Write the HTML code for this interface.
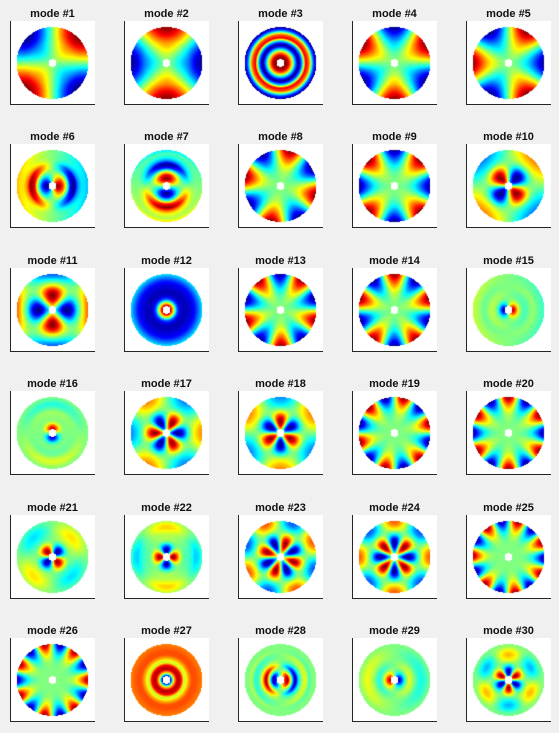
<!DOCTYPE html>
<html><head><meta charset="utf-8">
<style>
html,body{margin:0;padding:0;background:#f0f0f0;}
#fig{position:relative;width:559px;height:733px;background:#f0f0f0;overflow:hidden;font-family:"Liberation Sans",sans-serif;}
.ax{position:absolute;width:85px;height:84px;background:#fff;border-left:1px solid #262626;border-bottom:1px solid #262626;box-sizing:border-box;overflow:hidden;}
.ax canvas{position:absolute;left:0;top:0;}
.tt{position:absolute;width:120px;text-align:center;font-weight:bold;font-size:11px;color:#111;line-height:12px;}
</style></head>
<body>
<div id="fig"></div>
<script>
const modeIds=[1,2,3,4,5,6,7,8,9,10,11,12,13,14,15,16,17,18,19,20,21,22,23,24,25,26,27,28,29,30];
const circOrders=[2,2,0,3,3,1,1,4,4,2,2,0,5,5,1,1,3,3,6,6,2,2,4,4,7,7,0,1,1,3];
const phasesDeg=[45,90,0,-90,180,0,90,75,45,135,90,0,55,90,0,90,180,90,75,90,135,0,160,45,75,0,0,0,180,-90];
const edgeProfile=[0.05,0.1,0.2,0.3,0.4,0.5,0.65,0.8,0.9,1];
const edgeSharp=[0,0.02,0.05,0.1,0.2,0.32,0.48,0.65,0.82,1];
const radialProfiles=[
edgeProfile,edgeProfile,
[1,0.9,0.4,-0.4,-1,-0.4,0.8,0.5,-0.5,-1],
[0,0.05,0.1,0.2,0.3,0.4,0.55,0.7,0.85,1],
[0,0.05,0.1,0.2,0.3,0.4,0.55,0.7,0.85,1],
[1,0.9,0.6,0.0,-0.8,-1,-0.5,-0.3,-0.3,-0.4],
[0.6,1,0.8,0.2,-0.7,-1,-0.5,-0.2,-0.1,-0.3],
edgeSharp,edgeSharp,
[0.6,0.9,1,0.9,0.6,0.2,-0.1,-0.3,-0.4,-0.5],
[0.3,0.6,0.9,1,0.9,0.6,0.2,-0.1,-0.4,-0.6],
[1,0.2,-0.6,-0.85,-0.9,-0.85,-0.8,-0.7,-0.5,-0.3],
edgeSharp,edgeSharp,
[1,0.6,0.1,-0.1,-0.1,0,0.05,-0.05,-0.1,-0.15],
[1,0.6,0.1,0,0.05,0.05,-0.1,-0.2,-0.1,0],
[0.4,0.8,1,0.9,0.6,0.2,-0.1,-0.3,-0.4,-0.5],
[0.4,0.8,1,0.9,0.6,0.2,-0.1,-0.3,-0.4,-0.5],
[0,0,0.02,0.05,0.1,0.2,0.35,0.55,0.8,1],
[0,0,0.02,0.05,0.1,0.2,0.35,0.55,0.8,1],
[0.8,1,0.7,0.2,-0.1,-0.2,-0.3,-0.3,-0.2,-0.1],
[0.8,1,0.6,0.1,-0.1,-0.1,-0.2,-0.35,-0.3,-0.1],
[0.2,0.6,0.9,1,0.8,0.4,0,-0.3,-0.5,-0.6],
[0.2,0.6,0.9,1,0.8,0.4,0,-0.3,-0.5,-0.6],
[0,0,0,0.02,0.06,0.15,0.3,0.5,0.75,1],
[0,0,0,0.02,0.06,0.15,0.3,0.5,0.75,1],
[-1,0.3,0.9,0.8,0.1,0.4,0.6,0.6,0.55,0.5],
[0.6,1,0,-1,-0.3,0.1,0.2,-0.1,0,0],
[1,0.6,0.1,-0.2,-0.1,0.1,0.2,0.2,0.1,0],
[0.6,1,0.8,0.3,-0.1,-0.3,-0.4,-0.3,-0.1,0]
];

function jet(t){
  t=Math.max(0,Math.min(1,t));
  const r=Math.max(0,Math.min(1,1.5-Math.abs(4*t-3)));
  const g=Math.max(0,Math.min(1,1.5-Math.abs(4*t-2)));
  const b=Math.max(0,Math.min(1,1.5-Math.abs(4*t-1)));
  return [r*255,g*255,b*255];
}
function profileAt(p,r){
  const x=(r-0.1)/0.1;
  if(x<=0)return p[0];
  if(x>=p.length-1)return p[p.length-1];
  const i=Math.floor(x),f=x-i;
  return p[i]*(1-f)+p[i+1]*f;
}
const fig=document.getElementById('fig');
const AXW=85,AXH=84,CW=84,CH=83,R=36,HOLE=0.11;
for(let k=0;k<modeIds.length;k++){
  const col=k%5,row=Math.floor(k/5);
  const left=10+col*114, top=Math.round(21+row*123.4);
  const title=document.createElement('div');
  title.className='tt';
  
  
  title.style.left=(left+AXW/2-60)+'px';
  title.style.top=(top-13)+'px';
  title.textContent='mode #'+modeIds[k];
  fig.appendChild(title);
  const ax=document.createElement('div');
  ax.className='ax';
  
  
  ax.style.left=left+'px';ax.style.top=top+'px';
  const cv=document.createElement('canvas');
  cv.width=CW;cv.height=CH;
  
  
  ax.appendChild(cv);
  fig.appendChild(ax);
  const ctx=cv.getContext('2d');
  const img=ctx.createImageData(CW,CH);
  const cx=41.5,cy=42,n=circOrders[k],ph=phasesDeg[k]*Math.PI/180,prof=radialProfiles[k];
  let mx=0;
  for(const v of prof)mx=Math.max(mx,Math.abs(v));
  if(mx===0)mx=1;
  for(let y=0;y<CH;y++)for(let x=0;x<CW;x++){
    const dx=x+0.5-cx,dy=cy-(y+0.5);
    const r=Math.sqrt(dx*dx+dy*dy)/R;
    const idx=(y*CW+x)*4;
    if(r>1||r<HOLE){img.data[idx]=255;img.data[idx+1]=255;img.data[idx+2]=255;img.data[idx+3]=255;continue;}
    const th=Math.atan2(dy,dx);
    const ang=n===0?1:Math.cos(n*(th-ph));
    const v=profileAt(prof,r)/mx*ang;
    const c=jet((v+1)/2);
    img.data[idx]=c[0];img.data[idx+1]=c[1];img.data[idx+2]=c[2];img.data[idx+3]=255;
  }
  ctx.putImageData(img,0,0);
}
</script>
</body></html>
